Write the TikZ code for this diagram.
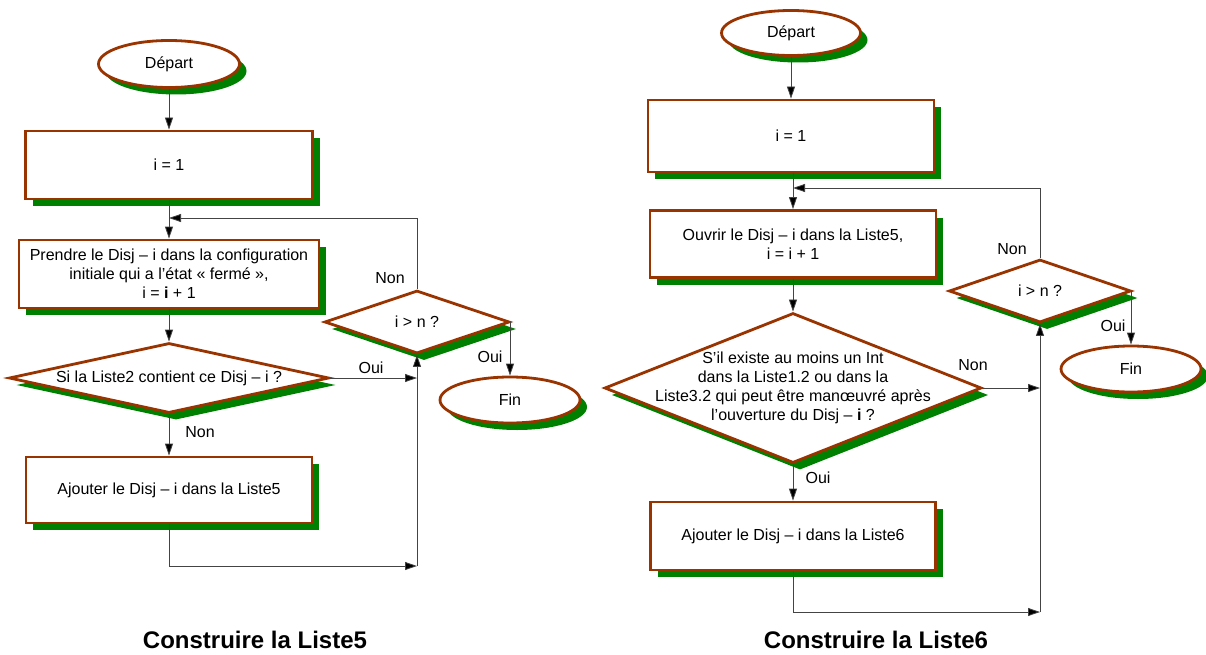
\documentclass[tikz,border=0pt]{standalone}
\usepackage{fontspec}
\setmainfont{Liberation Sans}
\usetikzlibrary{shapes.geometric, arrows.meta, shadows}
\definecolor{vsBrown}{HTML}{993300}
\definecolor{vsGreen}{HTML}{008000}
\definecolor{vsLine}{HTML}{444444}

\begin{document}
\begin{tikzpicture}[x=1pt, y=-1pt, font=\fontsize{16}{19}\selectfont,
  shadowed/.style={draw=vsBrown, line width=2.8pt, fill=white,
    drop shadow={shadow xshift=7pt, shadow yshift=-7pt, fill=vsGreen, opacity=1}},
  terminal/.style={shadowed, ellipse, inner sep=0pt},
  process/.style={shadowed, rectangle, inner sep=0pt, align=center},
  decision/.style={shadowed, diamond, inner sep=0pt},
  qtext/.style={align=center, inner sep=0pt},
  answer/.style={inner sep=1pt},
  flow/.style={draw=vsLine, line width=0.8pt, -{Triangle[length=12pt, width=8pt, fill=black]}},
  caption/.style={font=\fontsize{24}{28}\selectfont\bfseries}]
  \useasboundingbox (0,0) rectangle (1206,655);
  % Construire la Liste5
  \node[terminal, minimum width=141, minimum height=47] (dep1) at (169,64) {Départ};
  \node[process, minimum width=287, minimum height=68] (init1) at (169,165) {i = 1};
  \node[process, minimum width=300, minimum height=68] (prend1) at (169,274) {Prendre le Disj – i dans la configuration\\ initiale qui a l’état «~fermé~»,\\ i = \textbf{i} + 1};
  \node[decision, minimum width=320, minimum height=70] (test1) at (169,378) {};
  \node[qtext] (test1txt) at (test1) {Si la Liste2 contient ce Disj – i ?};
  \node[process, minimum width=286, minimum height=66] (ajout1) at (169,490) {Ajouter le Disj – i dans la Liste5};
  \node[decision, minimum width=185, minimum height=63] (boucle1) at (417,322) {};
  \node[qtext] (boucle1txt) at (boucle1) {i > n ?};
  \node[terminal, minimum width=140, minimum height=46] (fin1) at (510,400) {Fin};
  \coordinate (merge1) at (169,218);
  \coordinate (back1) at (417,566);
  \draw[flow] (dep1) -- (init1);
  \draw[flow] (init1) -- (prend1);
  \draw[flow] (boucle1.north) |- (merge1);
  \draw[flow] (prend1) -- (test1);
  \draw[flow] (test1.east) -- (test1.east -| boucle1.south);
  \draw[flow] (test1) -- (ajout1);
  \draw[flow] (ajout1.south) |- (back1);
  \draw[flow] (back1) -- (boucle1.south);
  \draw[flow] (boucle1.east) -| (fin1.north);
  \node[answer] (oui1) at (371,368) {Oui};
  \node[answer] (non1) at (200,432) {Non};
  \node[answer] (non2) at (390,278) {Non};
  \node[answer] (oui2) at (490,357) {Oui};
  \node[caption] (titre1) at (255,640) {Construire la Liste5};
  % Construire la Liste6
  \node[terminal, minimum width=139, minimum height=45] (dep2) at (791,33) {Départ};
  \node[process, minimum width=286, minimum height=72] (init2) at (791,136) {i = 1};
  \node[process, minimum width=286, minimum height=67] (ouvre2) at (793,244) {Ouvrir le Disj – i dans la Liste5,\\ i = i + 1};
  \node[decision, minimum width=377, minimum height=150] (test2) at (793,388) {};
  \node[qtext] (test2txt) at (test2) {S’il existe au moins un Int\\ dans la Liste1.2 ou dans la\\ Liste3.2 qui peut être manœuvré après\\ l’ouverture du Disj – \textbf{i} ?};
  \node[process, minimum width=285, minimum height=68] (ajout2) at (793,536) {Ajouter le Disj – i dans la Liste6};
  \node[decision, minimum width=182, minimum height=63] (boucle2) at (1040,291) {};
  \node[qtext] (boucle2txt) at (boucle2) {i > n ?};
  \node[terminal, minimum width=140, minimum height=46] (fin2) at (1131,369) {Fin};
  \coordinate (merge2) at (793,188);
  \coordinate (back2) at (1040,612);
  \draw[flow] (dep2.south -| init2) -- (init2);
  \draw[flow] (init2.south -| ouvre2) -- (ouvre2);
  \draw[flow] (boucle2.north) |- (merge2);
  \draw[flow] (ouvre2) -- (test2);
  \draw[flow] (test2.east) -- (test2.east -| boucle2.south);
  \draw[flow] (test2) -- (ajout2);
  \draw[flow] (ajout2.south) |- (back2);
  \draw[flow] (back2) -- (boucle2.south);
  \draw[flow] (boucle2.east) -| (fin2.north);
  \node[answer] (non3) at (973,365) {Non};
  \node[answer] (oui3) at (818,478) {Oui};
  \node[answer] (non4) at (1012,249) {Non};
  \node[answer] (oui4) at (1113,326) {Oui};
  \node[caption] (titre2) at (876,640) {Construire la Liste6};
\end{tikzpicture}
\end{document}
